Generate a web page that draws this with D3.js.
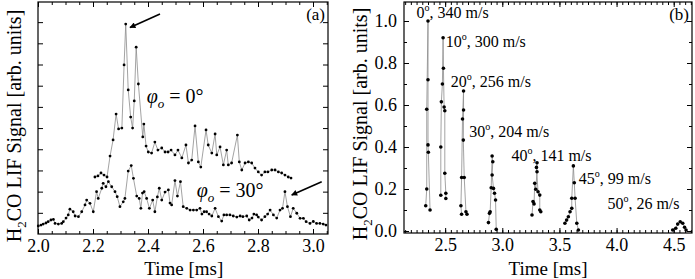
<!DOCTYPE html>
<html>
<head>
<meta charset="utf-8">
<script src="https://cdn.jsdelivr.net/npm/d3@7"></script>
<style>
  body { margin: 0; background: #fff; }
  svg, svg text { font-family: "Liberation Serif", "Times New Roman", Times, serif !important; fill: #000; }
  .axis path { display: none; }
  .axis line { stroke: #000; stroke-width: 1; }
  .line-path { fill: none; stroke: #8c8c8c; stroke-width: 0.8; }
  .dot { fill: #000; }
</style>
</head>
<body>
<svg id="chart" width="695" height="279"></svg>
<script>
// ---- panel (a): phi_o = 0 deg and 30 deg, time [ms] vs signal
const timeA0 = [2.207,2.218,2.229,2.240,2.251,2.262,2.273,2.284,2.293,2.305,2.313,2.319,2.328,2.337,2.344,2.350,2.357,2.365,
  2.381,2.385,2.393,2.401,2.413,2.425,2.436,2.450,2.462,2.473,2.484,2.498,2.509,2.523,2.538,2.547,2.559,2.571,2.583,2.592,
  2.611,2.619,2.632,2.644,2.650,2.662,2.674,2.686,2.692,2.704,2.725,2.732,2.741,2.753,2.765,2.777,2.789,2.801,2.813,2.825,
  2.836,2.850,2.862,2.874,2.886,2.898,2.910,2.920];
const sigA0 = [0.269,0.274,0.288,0.278,0.269,0.368,0.444,0.566,0.496,0.500,0.798,0.991,0.680,0.552,0.500,0.628,0.882,0.708,
  0.458,0.519,0.415,0.387,0.382,0.434,0.396,0.406,0.387,0.387,0.396,0.373,0.396,0.359,0.420,0.335,0.349,0.510,0.340,0.316,
  0.491,0.420,0.382,0.472,0.373,0.411,0.326,0.396,0.326,0.335,0.467,0.340,0.302,0.335,0.340,0.335,0.311,0.293,0.278,0.293,
  0.293,0.302,0.302,0.293,0.288,0.278,0.269,0.264];

const timeA30 = [2.001,2.011,2.019,2.029,2.037,2.047,2.056,2.062,2.074,2.086,2.092,2.102,2.110,2.116,2.128,2.135,2.147,2.159,
  2.171,2.177,2.189,2.201,2.213,2.219,2.232,2.237,2.247,2.256,2.268,2.280,2.288,2.298,2.310,2.316,2.328,2.339,2.347,2.359,
  2.368,2.374,2.380,2.386,2.395,2.405,2.417,2.425,2.434,2.441,2.450,2.462,2.474,2.480,2.486,2.498,2.507,2.518,2.528,2.541,
  2.553,2.565,2.577,2.589,2.596,2.604,2.613,2.622,2.632,2.644,2.656,2.668,2.676,2.686,2.698,2.710,2.723,2.735,2.745,2.759,
  2.768,2.778,2.785,2.795,2.801,2.813,2.825,2.835,2.844,2.856,2.868,2.880,2.889,2.898,2.907,2.918,2.928,2.941,2.953,2.965,
  2.975,2.989,3.001,3.013,3.025,3.037,3.047];
const sigA30 = [0.038,0.042,0.047,0.052,0.058,0.066,0.069,0.050,0.047,0.050,0.058,0.075,0.090,0.117,0.105,0.085,0.082,0.105,
  0.137,0.160,0.145,0.105,0.200,0.168,0.216,0.239,0.223,0.247,0.223,0.200,0.176,0.129,0.152,0.168,0.297,0.323,0.263,0.179,
  0.168,0.121,0.193,0.200,0.168,0.121,0.160,0.105,0.175,0.216,0.160,0.198,0.208,0.146,0.137,0.252,0.179,0.247,0.129,0.121,
  0.113,0.113,0.113,0.121,0.094,0.105,0.105,0.094,0.085,0.121,0.082,0.061,0.090,0.090,0.090,0.085,0.080,0.085,0.082,0.085,
  0.066,0.075,0.094,0.090,0.080,0.066,0.082,0.094,0.113,0.090,0.075,0.113,0.121,0.200,0.129,0.082,0.121,0.098,0.074,0.074,
  0.058,0.050,0.059,0.050,0.050,0.047,0.042];

// ---- panel (b): one short burst per angle
const labelsB = ["0", "10", "20", "30", "40", "45", "50"];
const speedsB = ["340", "300", "256", "204", "141", "99", "26"];
const timeB = [
  [2.330,2.339,2.339,2.350,2.350,2.350,2.353,2.368],
  [2.462,2.462,2.467,2.476,2.482,2.485,2.491,2.497,2.497,2.506,2.506],
  [2.644,2.638,2.644,2.652,2.661,2.661,2.659,2.667,2.682,2.691],
  [2.879,2.888,2.894,2.903,2.911,2.917,2.911,2.923,2.932,2.941,2.947],
  [3.260,3.269,3.278,3.284,3.293,3.304,3.304,3.299,3.313,3.328,3.328,3.337],
  [3.548,3.563,3.578,3.593,3.608,3.608,3.622,3.630,3.637,3.652,3.666],
  [4.491,4.518,4.535,4.557,4.579,4.595,4.608]
];
const sigB = [
  [0.12,0.20,0.58,1.00,0.72,0.41,0.375,0.10],
  [0.17,0.40,0.615,0.70,0.92,0.775,0.59,0.573,0.275,0.18,0.155],
  [0.08,0.12,0.255,0.533,0.667,0.576,0.433,0.255,0.092,0.08],
  [0.04,0.084,0.092,0.206,0.357,0.33,0.267,0.203,0.18,0.148,0.008],
  [0.076,0.14,0.129,0.227,0.199,0.282,0.325,0.303,0.187,0.171,0.10,0.092],
  [0.037,0.052,0.068,0.092,0.108,0.156,0.31,0.23,0.156,0.037,0.005],
  [0.005,0.013,0.033,0.044,0.037,0.018,0.005]
];

// tick values
const xTicksA = [2.0, 2.2, 2.4, 2.6, 2.8, 3.0];
const xTicksB = [2.5, 3.0, 3.5, 4.0, 4.5];
const yTicksB = [0.0, 0.2, 0.4, 0.6, 0.8, 1.0];

const SERIF = '"Liberation Serif", "Times New Roman", Times, serif';
const svg = d3.select("#chart");
const zip = (ts, vs) => ts.map((t, i) => ({ t: t, v: vs[i] }));

function range(a, b, step) {
  const out = [];
  for (let v = a; v <= b + 1e-9; v += step) out.push(+v.toFixed(3));
  return out;
}

function frame(g, x, y, xMajor, xMinor, yMajor, yMinor, yLabels) {
  const [x0, x1] = x.range();
  const [y0, y1] = y.range();

  g.append('rect')
    .attr('x', x0).attr('y', y1)
    .attr('width', x1 - x0).attr('height', y0 - y1)
    .attr('fill', 'none').attr('stroke', '#000').attr('stroke-width', 1.2);

  const fmt = d3.format('.1f');
  const bottom = g.append('g').attr('class', 'axis').attr('transform', `translate(0,${y0})`)
    .call(d3.axisBottom(x).tickValues(xMajor).tickSize(-5).tickPadding(5).tickFormat(fmt));
  bottom.attr('font-family', SERIF).attr('font-size', 18);
  bottom.selectAll('text').style('font-family', SERIF).style('font-size', '18px');
  g.append('g').attr('class', 'axis').attr('transform', `translate(0,${y0})`)
    .call(d3.axisBottom(x).tickValues(xMinor).tickSize(-3).tickFormat(''));
  g.append('g').attr('class', 'axis').attr('transform', `translate(0,${y1})`)
    .call(d3.axisTop(x).tickValues(xMajor).tickSize(-5).tickFormat(''));
  g.append('g').attr('class', 'axis').attr('transform', `translate(0,${y1})`)
    .call(d3.axisTop(x).tickValues(xMinor).tickSize(-3).tickFormat(''));

  const left = g.append('g').attr('class', 'axis').attr('transform', `translate(${x0},0)`)
    .call(d3.axisLeft(y).tickValues(yMajor).tickSize(-5).tickPadding(7).tickFormat(yLabels ? fmt : ''));
  left.attr('font-family', SERIF).attr('font-size', 18);
  left.selectAll('text').style('font-family', SERIF).style('font-size', '18px');
  g.append('g').attr('class', 'axis').attr('transform', `translate(${x1},0)`)
    .call(d3.axisRight(y).tickValues(yMajor).tickSize(-5).tickFormat(''));
  if (yMinor.length) {
    g.append('g').attr('class', 'axis').attr('transform', `translate(${x0},0)`)
      .call(d3.axisLeft(y).tickValues(yMinor).tickSize(-3).tickFormat(''));
    g.append('g').attr('class', 'axis').attr('transform', `translate(${x1},0)`)
      .call(d3.axisRight(y).tickValues(yMinor).tickSize(-3).tickFormat(''));
  }
}

function yTitle(x, cy) {
  const t = svg.append('text')
    .attr('transform', `translate(${x},${cy}) rotate(-90)`)
    .attr('text-anchor', 'middle')
    .style('font-family', SERIF)
    .attr('font-size', 20);
  t.append('tspan').text('H');
  t.append('tspan').attr('font-size', 13).attr('dy', 5).text('2');
  t.append('tspan').attr('dy', -5).text('CO LIF Signal [arb. units]');
}

function xTitle(cx) {
  svg.append('text').attr('x', cx).attr('y', 275)
    .attr('text-anchor', 'middle').style('font-family', SERIF)
    .attr('font-size', 19).text('Time [ms]');
}

function series(g, x, y, pts, r) {
  const line = d3.line().x(d => x(d.t)).y(d => y(d.v));
  g.append('path').attr('class', 'line-path').attr('d', line(pts));
  g.selectAll(null).data(pts).enter().append('circle')
    .attr('class', 'dot')
    .attr('cx', d => x(d.t)).attr('cy', d => y(d.v)).attr('r', r);
}

// arrowhead
svg.append('defs').append('marker')
  .attr('id', 'arrow').attr('viewBox', '0 0 10 10')
  .attr('refX', 9).attr('refY', 5)
  .attr('markerWidth', 7).attr('markerHeight', 6)
  .attr('markerUnits', 'userSpaceOnUse')
  .attr('orient', 'auto')
  .append('path').attr('d', 'M0,0 L10,5 L0,10 z').attr('fill', '#000');

// ===== panel (a)
const xA = d3.scaleLinear().domain([2.0, 3.0545]).range([38, 328]);
const yA = d3.scaleLinear().domain([0, 1.095]).range([234, 2]);
const gA = svg.append('g');

frame(gA, xA, yA, xTicksA, range(2.0, 3.05, 0.05), range(0.1, 1.0, 0.1), [], false);
series(gA, xA, yA, zip(timeA0, sigA0), 1.4);
series(gA, xA, yA, zip(timeA30, sigA30), 1.4);

function arrow(g, x, y, from, to) {
  g.append('line')
    .attr('x1', x(from[0])).attr('y1', y(from[1]))
    .attr('x2', x(to[0])).attr('y2', y(to[1]))
    .attr('stroke', '#000').attr('stroke-width', 1.6)
    .attr('marker-end', 'url(#arrow)');
}
arrow(gA, xA, yA, [2.4436, 1.038], [2.3345, 0.975]);
arrow(gA, xA, yA, [3.0316, 0.247], [2.9225, 0.184]);

function phiLabel(g, x, y, t, v, deg) {
  const txt = g.append('text').attr('x', x(t)).attr('y', y(v))
    .style('font-family', SERIF).attr('font-size', 20);
  txt.append('tspan').attr('font-style', 'italic').text('\u03c6');
  txt.append('tspan').attr('font-style', 'italic').attr('font-size', 13).attr('dy', 5).text('o');
  txt.append('tspan').attr('dy', -5).text(' = ' + deg + '\u00b0');
}
phiLabel(gA, xA, yA, 2.395, 0.62, '0');
phiLabel(gA, xA, yA, 2.577, 0.175, '30');

gA.append('text').attr('x', 325).attr('y', 20).attr('text-anchor', 'end')
  .style('font-family', SERIF).attr('font-size', 17).text('(a)');

yTitle(21, 126);
xTitle(xA(2.53));

// ===== panel (b)
const xB = d3.scaleLinear().domain([2.14, 4.66]).range([404, 692]);
const yB = d3.scaleLinear().domain([-0.0095, 1.0905]).range([233, 2]);
const gB = svg.append('g');

frame(gB, xB, yB, xTicksB, range(2.15, 4.65, 0.05), yTicksB, range(0.1, 0.9, 0.2), true);
timeB.forEach((ts, i) => series(gB, xB, yB, zip(ts, sigB[i]), 1.8));

// burst labels (time, signal) for placement
const labelPosT = [2.25, 2.505, 2.55, 2.71, 3.08, 3.67, 3.92];
const labelPosV = [1.012, 0.878, 0.684, 0.447, 0.335, 0.223, 0.104];
labelsB.forEach((lab, i) => {
  const txt = gB.append('text')
    .attr('x', xB(labelPosT[i])).attr('y', yB(labelPosV[i]))
    .style('font-family', SERIF).attr('font-size', 16);
  txt.append('tspan').text(lab);
  txt.append('tspan').attr('font-size', 10).attr('dy', -7).text('o');
  txt.append('tspan').attr('dy', 7).text(', ' + speedsB[i] + ' m/s');
});

gB.append('text').attr('x', 689).attr('y', 20).attr('text-anchor', 'end')
  .style('font-family', SERIF).attr('font-size', 17).text('(b)');

yTitle(367, 124);
xTitle(xB(3.4));
</script>
</body>
</html>
